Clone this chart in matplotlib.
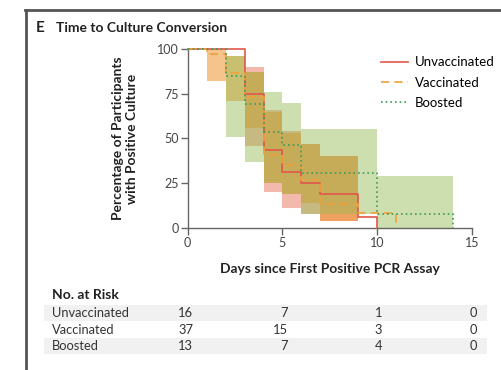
import numpy as np
import matplotlib
matplotlib.use('Agg')
import matplotlib.pyplot as plt
from matplotlib.lines import Line2D

plt.rcParams['font.family'] = ['Lato', 'DejaVu Sans']

# Kaplan-Meier step data (days, % with positive culture)
unvacc_t = [0, 3, 4, 5, 6, 7, 9, 10]
unvacc_s = [100, 75, 43.75, 31.25, 25, 18.75, 6.25, 0]
vacc_t = [0, 1, 2, 3, 4, 5, 6, 7, 9, 11]
vacc_s = [100, 97.3, 86.5, 73.0, 40.5, 35.1, 27.0, 13.5, 8.1, 0]
boost_t = [0, 2, 3, 4, 5, 6, 10, 14]
boost_s = [100, 84.6, 69.2, 53.8, 46.2, 30.8, 7.7, 0]

# confidence bands: (start day, end day, low, high)
unvacc_ci = [(3, 4, 46, 90), (4, 5, 20, 66), (5, 6, 11, 54), (6, 7, 8, 47), (7, 9, 4, 40)]
vacc_ci = [(1, 2, 82, 100), (2, 3, 71, 96), (3, 4, 56, 87), (4, 5, 25, 65),
           (5, 6, 19, 53), (6, 7, 14, 47), (7, 9, 4, 40)]
boost_ci = [(2, 3, 51, 96), (3, 4, 37, 87), (4, 5, 25, 76), (5, 6, 19, 70),
            (6, 10, 8, 55), (10, 14, 0, 29)]

groups = ['Unvaccinated', 'Vaccinated', 'Boosted']
risk_days = [0, 5, 10, 15]
at_risk = {'Unvaccinated': [16, 7, 1, 0],
           'Vaccinated': [37, 15, 3, 0],
           'Boosted': [13, 7, 4, 0]}

red = '#e0574a'
orange = '#f0a03a'
green = '#3d9a58'
dash = (0, (5, 3))
dots = (0, (1, 1.8))

fig = plt.figure(figsize=(5.02, 3.70), dpi=100)
ax = fig.add_axes([0.374, 0.384, 0.566, 0.484])

# bands: red, then orange, green on top so overlaps turn olive
for t0, t1, lo, hi in unvacc_ci:
    ax.fill_between([t0, t1], [lo, lo], [hi, hi], color='#e36447', alpha=0.45, lw=0, clip_on=False)
for t0, t1, lo, hi in vacc_ci:
    ax.fill_between([t0, t1], [lo, lo], [hi, hi], color='#ed8a1a', alpha=0.5, lw=0, clip_on=False)
for t0, t1, lo, hi in boost_ci:
    ax.fill_between([t0, t1], [lo, lo], [hi, hi], color='#94ba4f', alpha=0.45, lw=0, clip_on=False)

ax.step(unvacc_t, unvacc_s, where='post', color=red, lw=1.2, clip_on=False, zorder=5)
ax.step(vacc_t, vacc_s, where='post', color=orange, lw=1.2, ls=dash, clip_on=False, zorder=5)
ax.step(boost_t, boost_s, where='post', color=green, lw=1.2, ls=dots, clip_on=False, zorder=5)

ax.set_xlim(0, 15)
ax.set_ylim(0, 100)
ax.set_xticks([0, 5, 10, 15])
ax.set_yticks([0, 25, 50, 75, 100])
for s in ['top', 'right']:
    ax.spines[s].set_visible(False)
for s in ['left', 'bottom']:
    ax.spines[s].set_color('#666666')
    ax.spines[s].set_linewidth(1.0)
ax.tick_params(colors='#666666', labelcolor='#444444', labelsize=9, length=5, width=1.0, pad=1.5)
ax.set_xlabel('Days since First Positive PCR Assay', fontsize=10, fontweight='bold', color='#222222', labelpad=10)
ax.set_ylabel('Percentage of Participants\nwith Positive Culture', fontsize=10, fontweight='bold',
              color='#222222', labelpad=14, linespacing=1.15)

handles = [Line2D([], [], color=red, lw=1.2),
           Line2D([], [], color=orange, lw=1.2, ls=dash),
           Line2D([], [], color=green, lw=1.2, ls=dots)]
fig.legend(handles, groups, loc='upper left', bbox_to_anchor=(0.748, 0.862), frameon=False,
           fontsize=9.5, handlelength=2.1, handletextpad=0.5, labelspacing=0.62, borderaxespad=0)

# panel frame and title
fig.add_artist(Line2D([25 / 502, 1], [1 - 10 / 370, 1 - 10 / 370], color='#555555', lw=2.0))
fig.add_artist(Line2D([26 / 502, 26 / 502], [0, 1 - 10 / 370], color='#555555', lw=2.0))
fig.text(36 / 502, 1 - 28 / 370, 'E', fontsize=11, fontweight='bold', color='#222222', va='center')
fig.text(56 / 502, 1 - 28 / 370, 'Time to Culture Conversion', fontsize=10, fontweight='bold',
         color='#222222', va='center')

# number at risk table
fig.text(52 / 502, 1 - 295 / 370, 'No. at Risk', fontsize=10, fontweight='bold', color='#222222', va='center')
row_y = [313, 330, 346]
for i, g in enumerate(groups):
    yy = 1 - row_y[i] / 370
    if i != 1:
        fig.patches.append(plt.Rectangle((44 / 502, 1 - (row_y[i] + 8) / 370), (487 - 44) / 502, 16 / 370,
                                         transform=fig.transFigure, color='#f1f1f1', lw=0, zorder=0))
    fig.text(52 / 502, yy, g, fontsize=9.3, color='#333333', va='center')
    for d, n in zip(risk_days, at_risk[g]):
        xf = ax.transData.transform((d + 0.28, 0))[0] / fig.bbox.width
        fig.text(xf, yy, str(n), fontsize=9.3, color='#333333', va='center', ha='right')

fig.savefig('out.png', dpi=100)
